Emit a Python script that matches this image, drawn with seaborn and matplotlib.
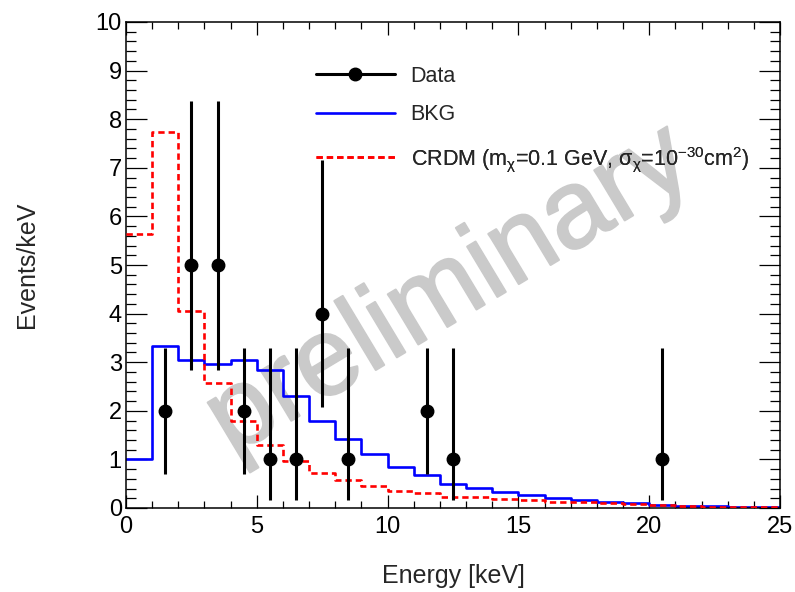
import numpy as np
import pandas as pd
import matplotlib
matplotlib.use("Agg")
import matplotlib.pyplot as plt
import matplotlib.patheffects as pe
import seaborn as sns
from matplotlib.lines import Line2D
from matplotlib.ticker import MultipleLocator

# ---------------- data ----------------
bin_edges = list(range(0, 26))
bkg_values = [1.00, 3.34, 3.04, 2.96, 3.05, 2.84, 2.31, 1.80, 1.42, 1.11,
              0.85, 0.67, 0.49, 0.42, 0.32, 0.26, 0.20, 0.16, 0.12, 0.10,
              0.06, 0.05, 0.04, 0.03, 0.02]
crdm_values = [5.64, 7.73, 4.06, 2.57, 1.79, 1.30, 0.97, 0.73, 0.57, 0.45,
               0.35, 0.30, 0.23, 0.22, 0.18, 0.16, 0.13, 0.12, 0.11, 0.09,
               0.06, 0.04, 0.03, 0.02, 0.02]
data_x = [1.5, 2.5, 3.5, 4.5, 5.5, 6.5, 7.5, 8.5, 11.5, 12.5, 20.5]
data_y = [2, 5, 5, 2, 1, 1, 4, 1, 2, 1, 1]
data_err_lo = [1.30, 2.16, 2.16, 1.30, 0.83, 0.83, 1.92, 0.83, 1.30, 0.83, 0.83]
data_err_hi = [1.30, 3.38, 3.38, 1.30, 2.30, 2.30, 3.17, 2.30, 1.30, 2.30, 2.30]

legend_labels = ["Data", "BKG",
                 r"CRDM (m$_{\mathrm{χ}}$=0.1 GeV, σ$_{\mathrm{χ}}$=10$^{\mathrm{-30}}$cm$^{\mathrm{2}}$)"]
x_label = "Energy [keV]"
y_label = "Events/keV"
watermark = "preliminary"

# ---------------- style ----------------
sns.set_theme(style="ticks")
plt.rcParams["font.family"] = ["Liberation Sans", "DejaVu Sans"]
plt.rcParams["mathtext.fontset"] = "custom"
plt.rcParams["mathtext.rm"] = "Liberation Sans"
plt.rcParams["mathtext.it"] = "Liberation Sans:italic"
plt.rcParams["mathtext.bf"] = "Liberation Sans:bold"

fig = plt.figure(figsize=(7.95, 5.92), dpi=100)
ax = fig.add_axes([126 / 795, 1 - 508 / 592, (780 - 126) / 795, (508 - 22) / 592])
ax.set_facecolor("white")
fig.patch.set_facecolor("white")

centers = [(a + b) / 2 for a, b in zip(bin_edges[:-1], bin_edges[1:])]
df = pd.DataFrame({"E": centers, "bkg": bkg_values, "crdm": crdm_values})

# watermark
ax.text(0.495, 0.445, watermark, transform=ax.transAxes, rotation=31,
        rotation_mode="anchor", ha="center", va="center", fontsize=80,
        color="#cacaca", zorder=0.5,
        path_effects=[pe.withStroke(linewidth=1.5, foreground="#cacaca")])

sns.histplot(data=df, x="E", weights="bkg", bins=bin_edges, element="step",
             fill=False, color="#0000ff", linewidth=1.9, ax=ax, zorder=2)
sns.histplot(data=df, x="E", weights="crdm", bins=bin_edges, element="step",
             fill=False, color="#ff0000", linewidth=1.9, ax=ax, zorder=3,
             linestyle=(0, (2.4, 1.5)))

ax.errorbar(data_x, data_y, yerr=[data_err_lo, data_err_hi], fmt="o",
            color="black", ms=9, elinewidth=2.2, capsize=0, zorder=4)

ax.set_xlim(0, 25)
ax.set_ylim(0, 10)
ax.xaxis.set_major_locator(MultipleLocator(5))
ax.xaxis.set_minor_locator(MultipleLocator(1))
ax.yaxis.set_major_locator(MultipleLocator(1))
ax.yaxis.set_minor_locator(MultipleLocator(0.2))

ax.tick_params(which="both", direction="in", top=True, right=True,
               colors="black", width=0.9)
ax.tick_params(axis="x", which="major", length=9.5, labelsize=17, pad=6)
ax.tick_params(axis="x", which="minor", length=5)
ax.tick_params(axis="y", which="major", length=15, labelsize=17, pad=3)
ax.tick_params(axis="y", which="minor", length=7.5)
for sp in ax.spines.values():
    sp.set_linewidth(1.1)
    sp.set_color("black")
    sp.set_visible(True)

ax.set_xlabel(x_label, fontsize=18)
ax.set_ylabel(y_label, fontsize=18)
ax.xaxis.set_label_coords(0.5, -0.116)
ax.yaxis.set_label_coords(-0.133, 0.5)

handles = [
    Line2D([], [], color="black", marker="o", ms=9, lw=2.2),
    Line2D([], [], color="#0000ff", lw=1.9),
    Line2D([], [], color="#ff0000", lw=1.9, linestyle=(0, (2.4, 1.5))),
]
row_y_px = [76, 115, 159]
for h, lab, yc in zip(handles, legend_labels, row_y_px):
    lg = ax.legend([h], [lab], loc="center left",
                   bbox_to_anchor=(316 / 795, 1 - yc / 592),
                   bbox_transform=fig.transFigure, frameon=False, fontsize=15.5,
                   handlelength=3.65, handletextpad=0.75,
                   borderpad=0, borderaxespad=0, numpoints=1)
    ax.add_artist(lg)

fig.savefig("out.png", dpi=100, facecolor="white")
